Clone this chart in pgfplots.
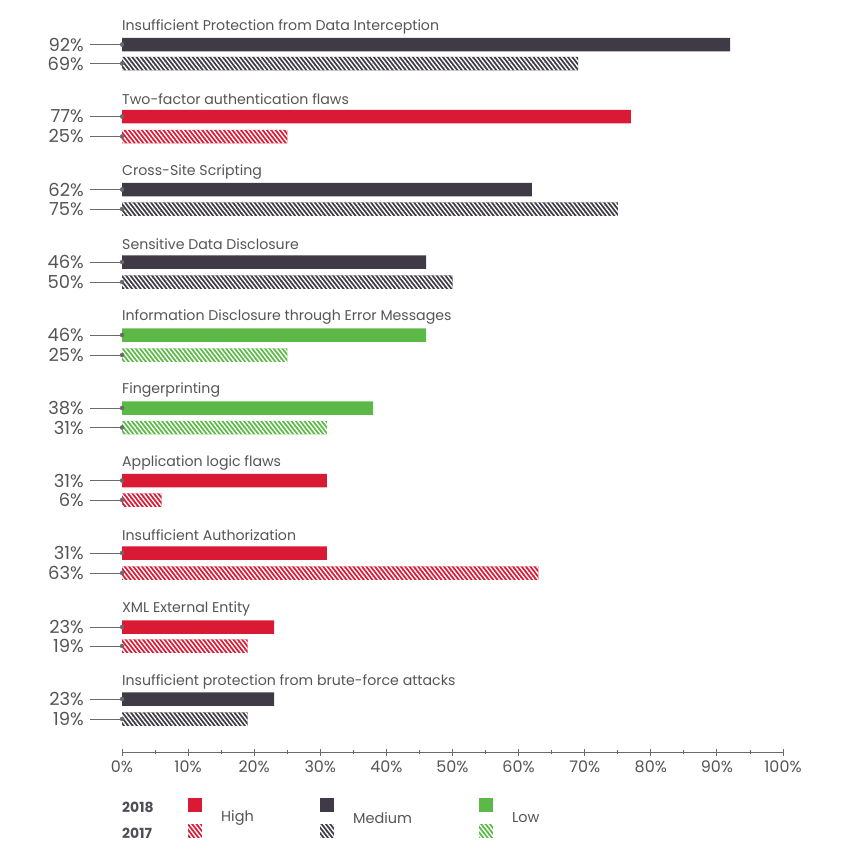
\documentclass[border=0pt]{standalone}
\usepackage{fontspec}
\setmainfont{Poppins}
\usepackage{pgfplots}
\pgfplotsset{compat=1.18}
\usetikzlibrary{patterns.meta}
\definecolor{cDark}{HTML}{3F3A45}
\definecolor{cRed}{HTML}{DA1A35}
\definecolor{cGreen}{HTML}{5CB947}
\definecolor{cText}{HTML}{555555}
\definecolor{cLine}{HTML}{6A6A6A}
\tikzset{hatch/.style={postaction={pattern={Lines[angle=-52,distance=3.4bp,line width=1.4bp]},pattern color=white}}}
\pgfplotsset{mybar/.style={xbar, bar width=13.5, bar shift=0pt, draw=none}}
\begin{document}
\begin{tikzpicture}
\useasboundingbox (0,0) rectangle (842bp,-857bp);
\begin{axis}[
  at={(122bp,0bp)}, anchor=origin,
  x=6.61bp, y=1bp,
  xmin=0, xmax=100, ymin=-752, ymax=0,
  clip=false,
  axis x line=bottom, axis y line=none,
  x axis line style={-, cLine, line width=1bp},
  xtick={0,10,...,100}, minor xtick={5,15,...,95},
  tick align=center, major tick length=7bp, minor tick length=4bp,
  every tick/.style={cLine, line width=0.9bp},
  /pgf/number format/assume math mode=true,
  xticklabel={\pgfmathprintnumber{\tick}\%},
  tick label style={font=\fontsize{16}{16}\selectfont, text=cText},
  xticklabel style={font=\fontsize{16}{16}\selectfont, text=cText, yshift=-1.5bp},
  ytick=\empty,
]
% 2018 Medium
\addplot[mybar, fill=cDark] coordinates {(92,-44.5) (62,-189.5) (46,-262) (23,-699)};
% 2017 Medium
\addplot[mybar, fill=cDark, hatch] coordinates {(69,-63.5) (75,-209) (50,-282) (19,-719)};
% 2018 High
\addplot[mybar, fill=cRed] coordinates {(77,-116.5) (31,-480.5) (31,-553) (23,-627)};
% 2017 High
\addplot[mybar, fill=cRed, hatch] coordinates {(25,-136.5) (6,-500) (63,-573) (19,-646)};
% 2018 Low
\addplot[mybar, fill=cGreen] coordinates {(46,-335) (38,-408)};
% 2017 Low
\addplot[mybar, fill=cGreen, hatch] coordinates {(25,-355) (31,-427.5)};
% leader lines
\addplot[xcomb, cLine, line width=1bp] coordinates {
(-4.84,-44.5) (-4.84,-63.5) (-4.84,-116.5) (-4.84,-136.5) (-4.84,-189.5) (-4.84,-209)
(-4.84,-262) (-4.84,-282) (-4.84,-335) (-4.84,-355) (-4.84,-408) (-4.84,-427.5)
(-4.84,-480.5) (-4.84,-500) (-4.84,-553) (-4.84,-573) (-4.84,-627) (-4.84,-646)
(-4.84,-699) (-4.84,-719)};
% dots and value labels
\addplot[only marks, mark=*, mark size=2bp, cLine,
  point meta=explicit symbolic,
  nodes near coords={\pgfplotspointmeta\%},
  every node near coord/.style={anchor=east, xshift=-38bp, text=cText, font=\fontsize{18}{18}\selectfont, inner sep=0pt}]
coordinates {
(0,-44.5) [92] (0,-63.5) [69] (0,-116.5) [77] (0,-136.5) [25] (0,-189.5) [62] (0,-209) [75]
(0,-262) [46] (0,-282) [50] (0,-335) [46] (0,-355) [25] (0,-408) [38] (0,-427.5) [31]
(0,-480.5) [31] (0,-500) [6] (0,-553) [31] (0,-573) [63] (0,-627) [23] (0,-646) [19]
(0,-699) [23] (0,-719) [19]};
% category titles
\begin{scope}[every node/.style={anchor=west, inner sep=0pt, text=cText, font=\fontsize{14.2}{14.2}\selectfont}]
\node at (axis cs:0,-26.5) {Insufficient Protection from Data Interception};
\node at (axis cs:0,-99.5) {Two-factor authentication flaws};
\node at (axis cs:0,-172.5) {Cross-Site Scripting};
\node at (axis cs:0,-244.5) {Sensitive Data Disclosure};
\node at (axis cs:0,-317.5) {Information Disclosure through Error Messages};
\node at (axis cs:0,-390.5) {Fingerprinting};
\node at (axis cs:0,-463.5) {Application logic flaws};
\node at (axis cs:0,-535.5) {Insufficient Authorization};
\node at (axis cs:0,-608.5) {XML External Entity};
\node at (axis cs:0,-681.5) {Insufficient protection from brute-force attacks};
\end{scope}
\end{axis}
% legend
\begin{scope}[every node/.style={anchor=west, inner sep=0pt, text=cText, font=\fontsize{14.5}{14.5}\selectfont}]
\node[font=\fontsize{14}{14}\selectfont\bfseries, text=cDark!90] at (122bp,-807.5bp) {2018};
\node[font=\fontsize{14}{14}\selectfont\bfseries, text=cDark!90] at (122bp,-833bp) {2017};
\fill[cRed] (188bp,-798bp) rectangle (202bp,-812bp);
\fill[cRed, hatch] (188bp,-824bp) rectangle (202bp,-838bp);
\node at (221bp,-818bp) {High};
\fill[cDark] (320bp,-798bp) rectangle (334bp,-812bp);
\fill[cDark, hatch] (320bp,-824bp) rectangle (334bp,-838bp);
\node at (353bp,-818bp) {Medium};
\fill[cGreen] (479bp,-798bp) rectangle (493bp,-812bp);
\fill[cGreen, hatch] (479bp,-824bp) rectangle (493bp,-838bp);
\node at (512bp,-818bp) {Low};
\end{scope}
\end{tikzpicture}
\end{document}
